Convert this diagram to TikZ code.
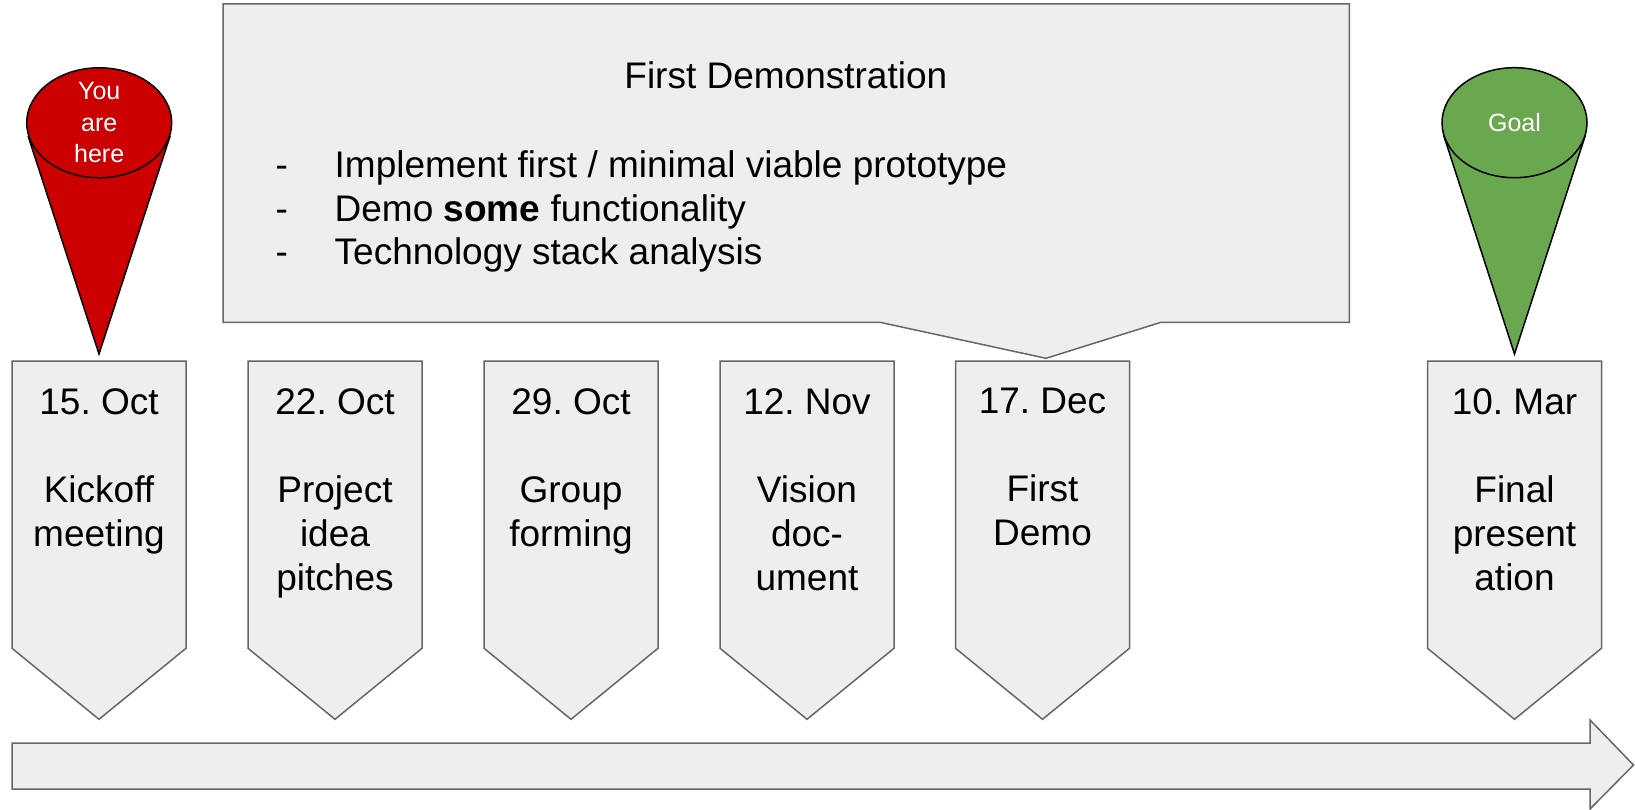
\documentclass[tikz,border=0pt]{standalone}
\usepackage{fontspec}
\setmainfont{Liberation Sans}
\usetikzlibrary{shapes.geometric}
\definecolor{boxfill}{HTML}{EEEEEE}
\definecolor{boxline}{HTML}{666666}
\definecolor{conered}{HTML}{CC0000}
\definecolor{conegreen}{HTML}{6AA84F}
\tikzset{
  datebox/.style={fill=boxfill, draw=boxline, line width=1.5pt, line join=miter},
  datetext/.style={anchor=north, inner sep=0pt, align=center, font=\fontsize{37}{44}\selectfont\frenchspacing},
  bigtext/.style={inner sep=0pt, font=\fontsize{37}{44}\selectfont\frenchspacing},
  conetext/.style={text=white, align=center, inner sep=0pt, font=\fontsize{25}{31.6}\selectfont},
  conebody/.style={draw=black, line width=1.5pt},
  conetop/.style={ellipse, draw=black, line width=1.5pt, minimum width=145pt, minimum height=110pt, inner sep=0pt},
}
\newcommand\milestone[3]{%
  \path[datebox] (#2,361) -- (#2+174,361) -- (#2+174,648.3) -- (#2+87,719.3) -- (#2,648.3) -- cycle;
  \node[datetext] (#1) at (#2+87,388.1) {#3};
}
\begin{document}
\begin{tikzpicture}[x=1pt,y=-1pt]
\useasboundingbox (0,0) rectangle (1635,810);

% callout
\path[datebox] (223,4) -- (1349.3,4) -- (1349.3,322.3) -- (1161,322.3) -- (1046,358.3) -- (880,322.3) -- (223,322.3) -- cycle;
\node[bigtext, anchor=base] (ctitle) at (785.8,88.3) {First Demonstration};
\node[bigtext, anchor=base west] (b1) at (275.3,178) {\makebox[59.2pt][l]{-}Implement first / minimal viable prototype};
\node[bigtext, anchor=base west] (b2) at (275.3,222) {\makebox[59.2pt][l]{-}Demo \textbf{some} functionality};
\node[bigtext, anchor=base west] (b3) at (275.3,265) {\makebox[59.2pt][l]{-}Technology stack analysis};

% milestones
\milestone{m1}{12}{15. Oct\\[44pt]Kickoff\\meeting}
\milestone{m2}{248}{22. Oct\\[44pt]Project\\idea\\pitches}
\milestone{m3}{484}{29. Oct\\[44pt]Group\\forming}
\milestone{m4}{720}{12. Nov\\[44pt]Vision\\doc-\\ument}
\milestone{m5}{955.5}{17. Dec\\[44pt]First\\Demo}
\milestone{m6}{1427.5}{10. Mar\\[44pt]Final\\present\\ation}

% timeline arrow
\path[datebox] (12,743) -- (1590,743) -- (1590,720) -- (1633.5,765) -- (1590,809) -- (1590,789) -- (12,789) -- cycle;

% red cone
\coordinate (youtip) at (99,354);
\fill[conered] (28.1,136.1) -- (youtip) -- (170.1,136.1) -- cycle;
\draw[conebody] (28.1,136.1) -- (youtip) -- (170.1,136.1);
\node[conetop, fill=conered] (youtop) at (99.2,122.8) {};
\node[conetext] (youlabel) at (youtop.center) {You\\are\\here};

% green cone
\coordinate (goaltip) at (1514.5,354);
\fill[conegreen] (1443.8,135.8) -- (goaltip) -- (1585.2,135.8) -- cycle;
\draw[conebody] (1443.8,135.8) -- (goaltip) -- (1585.2,135.8);
\node[conetop, fill=conegreen] (goaltop) at (1514.5,122.7) {};
\node[conetext] (goallabel) at (goaltop.center) {Goal};
\end{tikzpicture}
\end{document}
